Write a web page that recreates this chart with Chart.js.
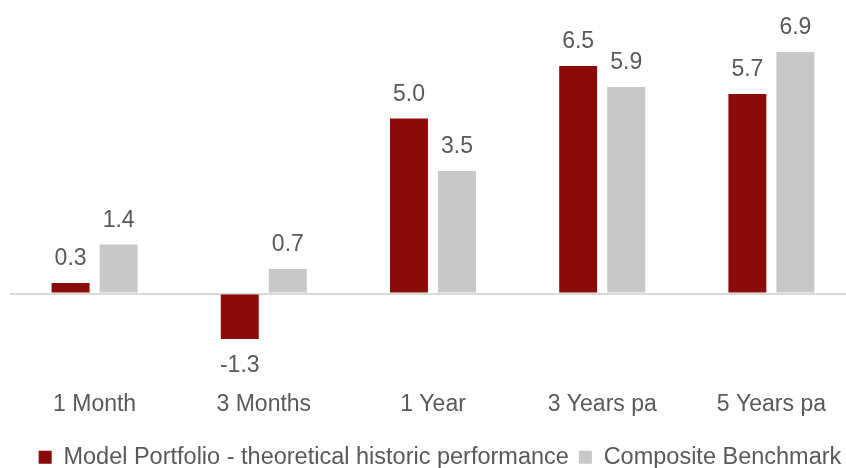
<!DOCTYPE html>
<html>
<head>
<meta charset="utf-8">
<script src="https://cdn.jsdelivr.net/npm/chart.js@4.4.1/dist/chart.umd.min.js"></script>
<style>
  html, body { margin: 0; padding: 0; background: #fff; overflow: hidden; }
  /* canvas a bit bigger than the window, the extra strip is cut off */
  .chart-box { width: 870px; height: 479px; }
</style>
</head>
<body>
<div class="chart-box"><canvas id="perfChart"></canvas></div>
<script>
  const categories = ["1 Month", "3 Months", "1 Year", "3 Years pa", "5 Years pa"];
  const modelValues = [0.3, -1.3, 5.0, 6.5, 5.7];
  const benchValues = [1.4, 0.7, 3.5, 5.9, 6.9];
  const seriesNames = ["Model Portfolio - theoretical historic performance", "Composite Benchmark"];

  const textColor = "#595959";
  const fontFamily = "Arial, 'Liberation Sans', sans-serif";

  // value above (or below, for negatives) every bar
  const valueLabels = {
    id: "valueLabels",
    afterDatasetsDraw(chart) {
      const ctx = chart.ctx;
      ctx.save();
      ctx.fillStyle = textColor;
      ctx.font = "23px " + fontFamily;
      ctx.textAlign = "center";
      ctx.textBaseline = "middle";
      chart.data.datasets.forEach((ds, i) => {
        chart.getDatasetMeta(i).data.forEach((bar, j) => {
          const v = ds.data[j];
          const y = v >= 0 ? bar.y - 24 : bar.y + 27;
          ctx.fillText(v.toFixed(1), bar.x, y);
        });
      });
      ctx.restore();
    }
  };

  new Chart(document.getElementById("perfChart"), {
    type: "bar",
    data: {
      labels: categories,
      datasets: [
        { label: seriesNames[0], data: modelValues, backgroundColor: "#8B0A0A" },
        { label: seriesNames[1], data: benchValues, backgroundColor: "#C8C8C8" }
      ]
    },
    options: {
      responsive: true,
      maintainAspectRatio: false,
      animation: false,
      categoryPercentage: 0.568,
      barPercentage: 0.79,
      layout: { padding: { left: 10, right: 0, top: 31, bottom: 0 } },
      plugins: {
        tooltip: { enabled: false },
        legend: {
          position: "bottom",
          labels: {
            color: textColor,
            font: { size: 23.5, family: fontFamily },
            boxWidth: 13,
            boxHeight: 13,
            padding: 10
          }
        }
      },
      scales: {
        x: {
          grid: { display: false, drawTicks: false },
          border: { display: false },
          ticks: { color: textColor, font: { size: 23, family: fontFamily }, padding: 10 },
          afterFit: (scale) => { scale.height = 54.5; }
        },
        y: {
          position: "right",
          min: -2.5,
          max: 7.5,
          ticks: { display: false, stepSize: 0.5 },
          border: { display: false },
          grid: {
            drawTicks: false,
            lineWidth: 2,
            color: (c) => (c.tick && c.tick.value === 0 ? "#D9D9D9" : "rgba(0,0,0,0)")
          },
          afterFit: (scale) => { scale.width = 14; }
        }
      }
    },
    plugins: [valueLabels]
  });
</script>
</body>
</html>
